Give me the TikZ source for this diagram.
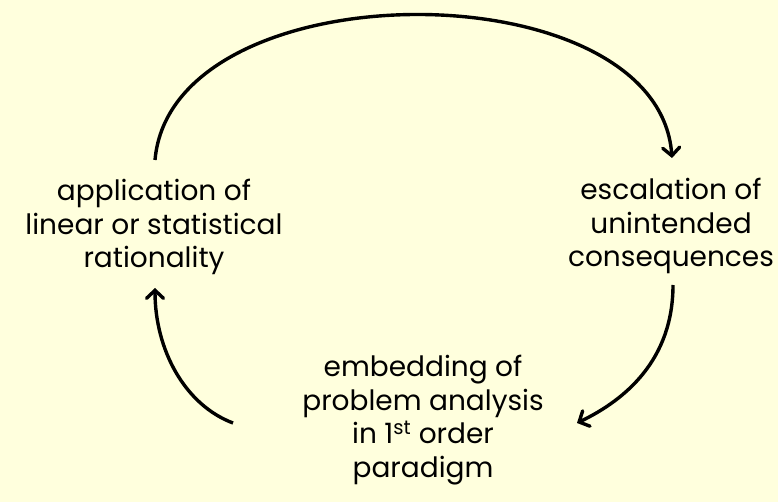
\documentclass[tikz,border=0pt]{standalone}
\usepackage{fontspec}
\setmainfont{Poppins}
\usetikzlibrary{arrows.meta}
\definecolor{paper}{RGB}{255,255,221}
\begin{document}
\begin{tikzpicture}[x=1pt,y=-1pt,
  label/.style={align=center,inner sep=0pt,font=\fontsize{28}{33.5}\selectfont},
  loop/.style={line width=3.4pt,-{Straight Barb[length=8pt,width=17pt,line cap=round]}}]
  % page
  \fill[paper] (0,0) rectangle (778,502);
  \useasboundingbox (0,0) rectangle (778,502);

  % the three stages of the cycle
  \node[label] (apply) at (154,227) {application of\\linear or statistical\\rationality};
  \node[label] (escal) at (671,226) {escalation of\\unintended\\consequences};
  \node[label] (embed) at (423,420) {embedding of\\problem analysis\\in 1\textsuperscript{st} order\\paradigm};

  % free ends of the arrows
  \coordinate (applyTop) at (155,160);
  \coordinate (escalTop) at (672,158);
  \coordinate (escalBot) at (673,285);
  \coordinate (embedR)   at (577,423);
  \coordinate (embedL)   at (233,423);
  \coordinate (applyBot) at (155,288);

  \draw[loop] (applyTop) .. controls (172,-33) and (658,-33) .. (escalTop);
  \draw[loop] (escalBot) .. controls (673,360) and (625,400) .. (embedR);
  \draw[loop] (embedL) .. controls (185,405) and (155,350) .. (applyBot);
\end{tikzpicture}
\end{document}
